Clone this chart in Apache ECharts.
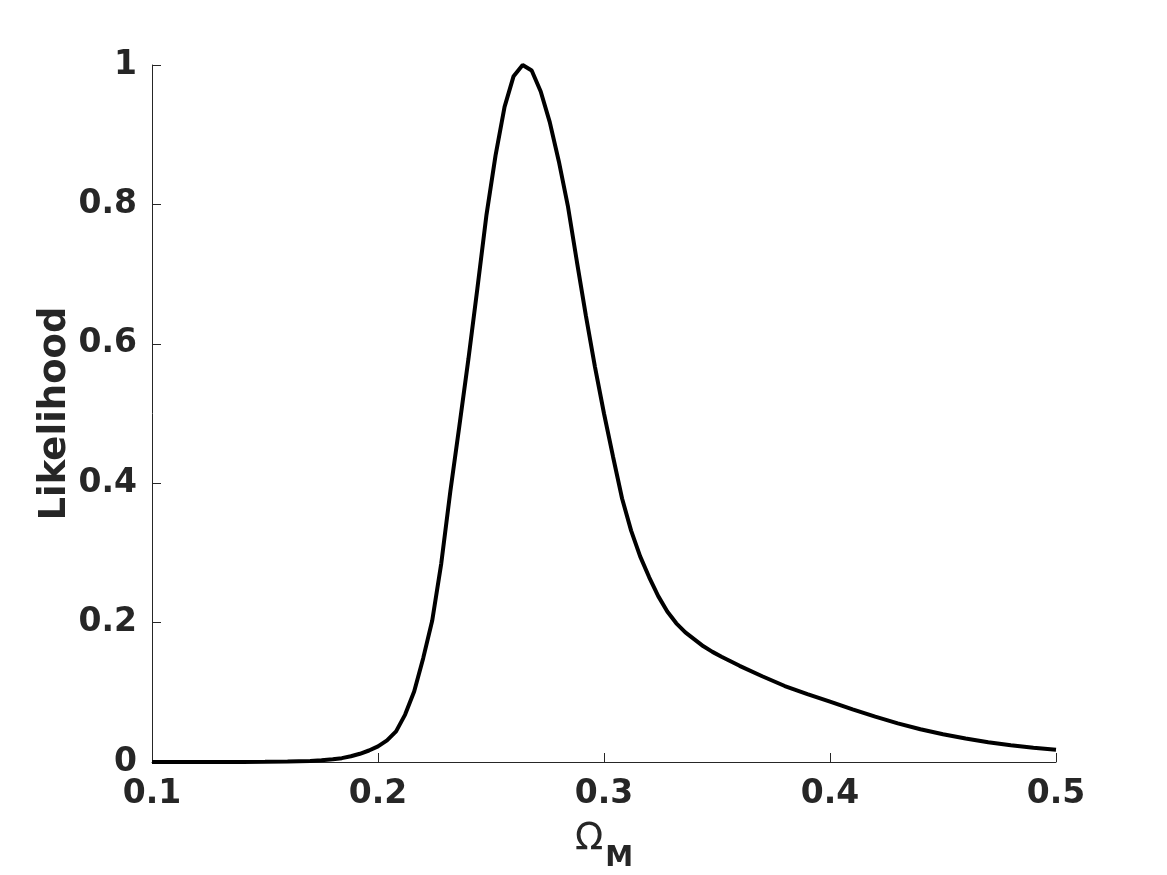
<!DOCTYPE html>
<html>
<head>
<meta charset="utf-8">
<title>Likelihood vs Omega_M</title>
<script src="https://cdn.jsdelivr.net/npm/echarts@6/dist/echarts.min.js"></script>
<style>
  html, body { margin: 0; padding: 0; background: #fff; }
  #chart { width: 1167px; height: 875px; }
</style>
</head>
<body>
<div id="chart"></div>
<script>
// Omega_M samples (x) and likelihood
const omegaM = [
  0.10, 0.12, 0.14, 0.15, 0.16, 0.17, 0.175, 0.18, 0.184, 0.188, 0.192, 0.196,
  0.200, 0.204, 0.208, 0.212, 0.216, 0.220, 0.224, 0.228, 0.232, 0.236, 0.240,
  0.244, 0.248, 0.252, 0.256, 0.260, 0.264, 0.268, 0.272, 0.276, 0.280, 0.284,
  0.288, 0.292, 0.296, 0.300, 0.304, 0.308, 0.312, 0.316, 0.320, 0.324, 0.328,
  0.332, 0.336, 0.340, 0.344, 0.348, 0.352, 0.356, 0.36, 0.37, 0.38, 0.39,
  0.40, 0.41, 0.42, 0.43, 0.44, 0.45, 0.46, 0.47, 0.48, 0.49, 0.50
];
const likelihood = [
  0, 0, 0.0001, 0.0002, 0.0006, 0.0016, 0.0025, 0.0038, 0.0055, 0.0082, 0.0118, 0.0165,
  0.0225, 0.031, 0.044, 0.068, 0.101, 0.149, 0.203, 0.285, 0.388, 0.482, 0.578,
  0.680, 0.785, 0.870, 0.940, 0.984, 1.000, 0.992, 0.962, 0.918, 0.862, 0.798,
  0.718, 0.640, 0.567, 0.500, 0.438, 0.378, 0.332, 0.295, 0.265, 0.238, 0.216,
  0.199, 0.186, 0.176, 0.166, 0.158, 0.151, 0.1445, 0.138, 0.123, 0.109, 0.0975,
  0.0865, 0.0755, 0.065, 0.0555, 0.047, 0.0398, 0.0336, 0.0283, 0.0240, 0.0205, 0.0175
];

const xTicks = { min: 0.1, max: 0.5, step: 0.1 };
const yTicks = { min: 0, max: 1, step: 0.2 };

const axisColor = '#262626';
const tickFont = { fontFamily: 'DejaVu Sans', fontWeight: 'bold', fontSize: 33, color: axisColor };

const chart = echarts.init(document.getElementById('chart'));

chart.setOption({
  animation: false,
  backgroundColor: '#fff',
  grid: { left: 152, top: 65, right: 111, bottom: 113, outerBoundsMode: 'none', containLabel: false },
  xAxis: {
    type: 'value',
    min: xTicks.min,
    max: xTicks.max,
    interval: xTicks.step,
    name: '{o|Ω}{s|M}',
    nameLocation: 'middle',
    nameGap: 43,
    nameMoveOverlap: false,
    nameTextStyle: {
      rich: {
        o: { fontFamily: 'DejaVu Sans', fontSize: 37, color: axisColor },
        s: { fontFamily: 'DejaVu Sans', fontWeight: 'bold', fontSize: 28, color: axisColor, padding: [40, 0, 0, 2] }
      }
    },
    axisLine: { lineStyle: { color: axisColor, width: 1 } },
    axisTick: { inside: true, length: 9, lineStyle: { color: axisColor } },
    axisLabel: Object.assign({ margin: 16, formatter: v => +v.toFixed(1) + '' }, tickFont),
    splitLine: { show: false }
  },
  yAxis: {
    type: 'value',
    min: yTicks.min,
    max: yTicks.max,
    interval: yTicks.step,
    name: 'Likelihood',
    nameLocation: 'middle',
    nameGap: 78,
    nameMoveOverlap: false,
    nameTextStyle: { fontFamily: 'DejaVu Sans', fontWeight: 'bold', fontSize: 37, color: axisColor },
    axisLine: { show: true, lineStyle: { color: axisColor, width: 1 } },
    axisTick: { show: true, inside: true, length: 9, lineStyle: { color: axisColor } },
    axisLabel: Object.assign({ margin: 15, formatter: v => +v.toFixed(1) + '' }, tickFont),
    splitLine: { show: false }
  },
  series: [{
    type: 'line',
    data: omegaM.map((x, i) => [x, likelihood[i]]),
    showSymbol: false,
    smooth: false,
    lineStyle: { color: '#000', width: 4 }
  }]
});
</script>
</body>
</html>
